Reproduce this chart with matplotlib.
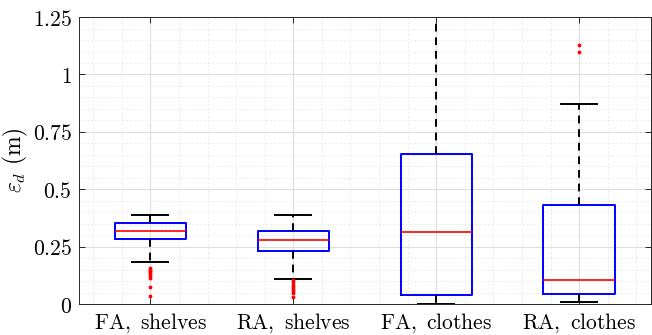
import matplotlib
matplotlib.use('Agg')
import matplotlib.pyplot as plt
from matplotlib.ticker import MultipleLocator

plt.rcParams['mathtext.fontset'] = 'cm'
plt.rcParams['font.family'] = 'serif'

labels = ['FA, shelves', 'RA, shelves', 'FA, clothes', 'RA, clothes']
q1 = [0.282, 0.232, 0.041, 0.045]
med = [0.319, 0.277, 0.315, 0.105]
q3 = [0.354, 0.319, 0.652, 0.430]
whislo = [0.182, 0.109, 0.0, 0.010]
whishi = [0.389, 0.389, 1.40, 0.872]
fliers = [
    [0.155, 0.150, 0.144, 0.138, 0.131, 0.122, 0.113, 0.073, 0.034],
    [0.105, 0.095, 0.085, 0.075, 0.065, 0.055, 0.047, 0.032],
    [],
    [1.127, 1.100],
]
yticks = [0, 0.25, 0.5, 0.75, 1, 1.25]
ytick_labels = ['0', '0.25', '0.5', '0.75', '1', '1.25']


def main():
    fig = plt.figure(figsize=(6.52, 3.35), dpi=100)
    ax = fig.add_axes([0.121, 0.0925, 0.877, 0.8565])

    stats = [dict(q1=q1[i], med=med[i], q3=q3[i], whislo=whislo[i],
                  whishi=whishi[i], fliers=fliers[i]) for i in range(len(labels))]
    ax.bxp(stats, positions=[1, 2, 3, 4], widths=0.5, showfliers=True,
           boxprops=dict(color='#0000ff', linewidth=1.4),
           medianprops=dict(color='#ff0000', linewidth=1.2),
           whiskerprops=dict(color='black', linewidth=1.4, linestyle=(0, (4, 3))),
           capprops=dict(color='black', linewidth=1.4),
           capwidths=0.25,
           flierprops=dict(marker='.', markersize=3.5, markerfacecolor='#ff0000',
                           markeredgecolor='#ff0000', linestyle='none'))

    ax.set_xlim(0.5, 4.5)
    ax.set_ylim(0, 1.25)
    ax.set_xticks([1, 2, 3, 4])
    ax.set_xticklabels([r'$\mathrm{' + l.replace(' ', r'\ ') + '}$' for l in labels],
                       fontsize=15.5)
    ax.set_yticks(yticks)
    ax.set_yticklabels(['$' + t + '$' for t in ytick_labels], fontsize=15.5)
    ax.xaxis.set_minor_locator(MultipleLocator(0.2))
    ax.yaxis.set_minor_locator(MultipleLocator(0.05))
    ax.set_ylabel(r'$\varepsilon_d\ (\mathrm{m})$', fontsize=17, labelpad=2)

    ax.grid(True, which='major', color='#dedede', linewidth=0.8, linestyle='-')
    ax.grid(True, which='minor', color='#ebebeb', linewidth=0.7, linestyle=(0, (2, 2)))
    ax.set_axisbelow(True)

    ax.tick_params(which='major', direction='in', length=4, width=0.7,
                   color='#262626', top=True, right=True, pad=5)
    ax.tick_params(which='minor', length=0)
    for s in ax.spines.values():
        s.set_color('#262626')
        s.set_linewidth(0.7)

    fig.savefig('out.png', dpi=100)


if __name__ == '__main__':
    main()
